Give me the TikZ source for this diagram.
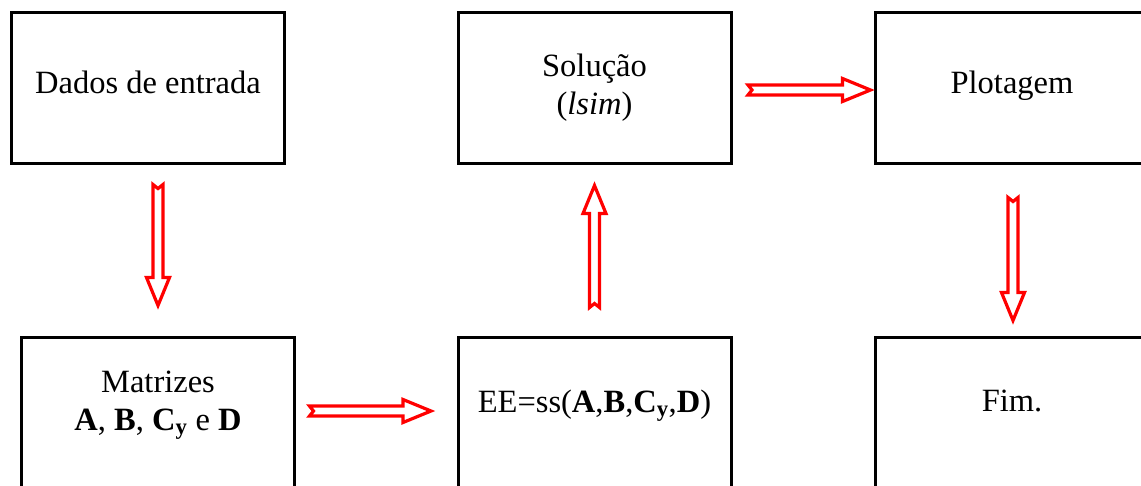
\documentclass[tikz,border=0pt]{standalone}
\usepackage{fontspec}
\setmainfont{Liberation Serif}
\usetikzlibrary{calc, positioning}

\begin{document}
\begin{tikzpicture}[x=1pt, y=-1pt,
    every node/.style={font=\fontsize{32.5}{38}\selectfont},
    box/.style={draw, rectangle, line width=3pt, minimum width=273pt, minimum height=151pt, inner sep=0pt, align=center},
    toprow/.style={text depth=12pt},
    lowrow/.style={text depth=24pt},
    hollow arrow/.style={draw=red, line width=3.2pt, line join=miter,
        to path={($(\tikztotarget)!28pt!(\tikztostart)$) coordinate (hb)
            ($(\tikztostart)!5pt!90:(\tikztotarget)$)
            -- ($(hb)!5pt!-90:(\tikztostart)$)
            -- ($(hb)!11.5pt!-90:(\tikztostart)$)
            -- (\tikztotarget)
            -- ($(hb)!11.5pt!90:(\tikztostart)$)
            -- ($(hb)!5pt!90:(\tikztostart)$)
            -- ($(\tikztostart)!5pt!-90:(\tikztotarget)$)
            -- ($(\tikztostart)!4pt!(\tikztotarget)$)
            -- cycle}}
]
    \useasboundingbox (0,0) rectangle (1141,485);
    \clip (0,0) rectangle (1141,485);

    % Top row
    \node (dados) [box, toprow] at (148, 88) {Dados de entrada};
    \node (sol) [box] at (594.5, 88) {Solução\\(\textit{lsim})};
    \node (plot) [box, toprow] at (1012, 88) {Plotagem};

    % Bottom row
    \node (matrizes) [box, lowrow] at (158, 413) {Matrizes\\\textbf{A}, \textbf{B}, \textbf{C}\textsubscript{\textbf{y}} e \textbf{D}};
    \node (ee) [box, lowrow] at (594.5, 413) {EE=ss(\textbf{A},\textbf{B},\textbf{C}\textsubscript{\textbf{y}},\textbf{D})};
    \node (fim) [box, lowrow] at (1012, 413) {Fim.};

    % Arrow ends
    \coordinate (a1t) at ($(dados.south -| matrizes.north)+(0,19.5)$);
    \coordinate (a1h) at ($(matrizes.north)+(0,-30.5)$);
    \coordinate (a2t) at ($(matrizes.east)+(13.5,-2)$);
    \coordinate (a2h) at ($(ee.west)+(-25.5,-2)$);
    \coordinate (a3t) at ($(ee.north)+(0,-28.5)$);
    \coordinate (a3h) at ($(sol.south)+(0,20.5)$);
    \coordinate (a4t) at ($(sol.east)+(15.5,2)$);
    \coordinate (a4h) at ($(plot.west)+(-3.5,2)$);
    \coordinate (a5t) at ($(plot.south)+(1,32.5)$);
    \coordinate (a5h) at ($(fim.north)+(1,-15.5)$);

    % Arrows
    \draw [hollow arrow] (a1t) to (a1h);
    \draw [hollow arrow] (a2t) to (a2h);
    \draw [hollow arrow] (a3t) to (a3h);
    \draw [hollow arrow] (a4t) to (a4h);
    \draw [hollow arrow] (a5t) to (a5h);

\end{tikzpicture}
\end{document}
